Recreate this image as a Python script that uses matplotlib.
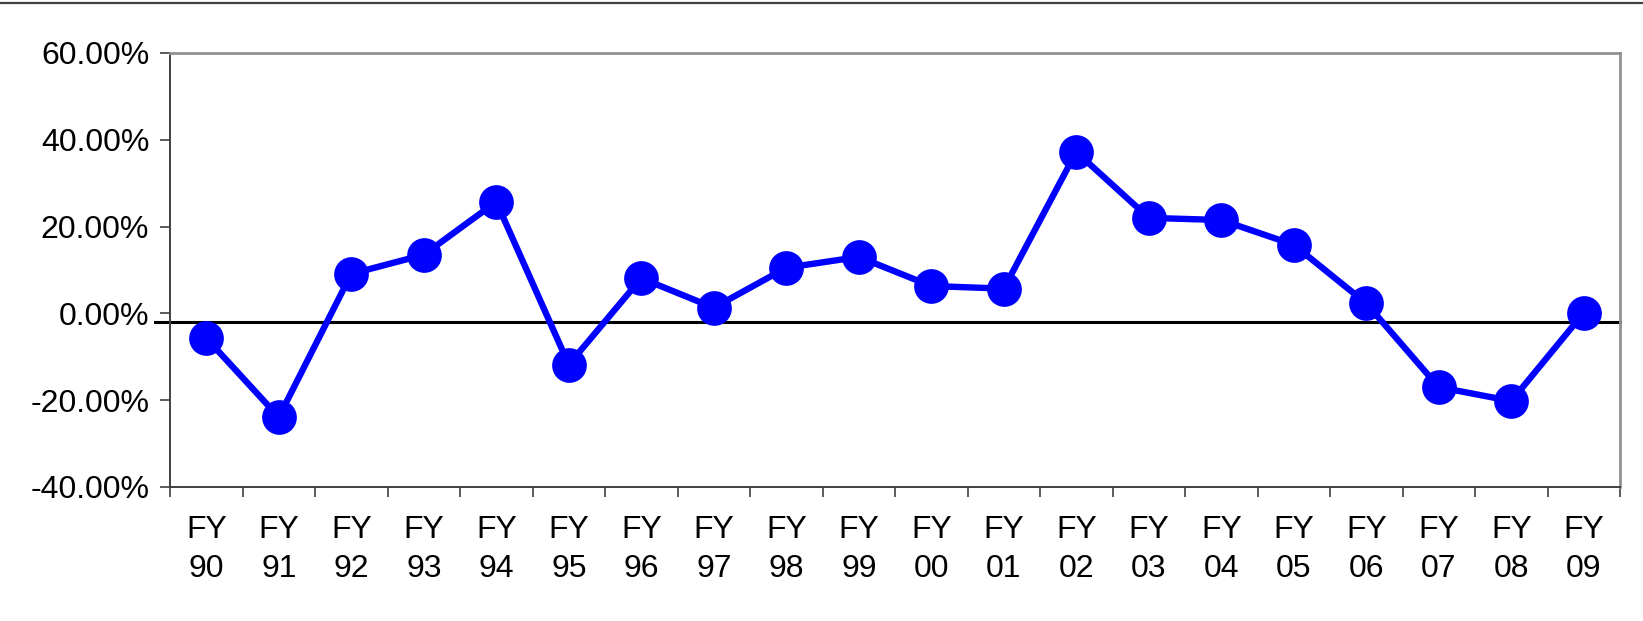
import numpy as np
import matplotlib
matplotlib.use("Agg")
import matplotlib.pyplot as plt
from matplotlib.lines import Line2D
from matplotlib.ticker import FixedLocator, FuncFormatter

years = ["90", "91", "92", "93", "94", "95", "96", "97", "98", "99",
         "00", "01", "02", "03", "04", "05", "06", "07", "08", "09"]
growth = [-5.7, -23.9, 9.1, 13.5, 25.7, -11.8, 8.1, 1.3, 10.5, 13.0,
          6.3, 5.7, 37.2, 22.0, 21.5, 15.8, 2.3, -17.0, -20.2, 0.1]
ref_level = -2.0
yticks = [-40, -20, 0, 20, 40, 60]

plt.rcParams['font.family'] = ['Liberation Sans', 'DejaVu Sans']

fig = plt.figure(figsize=(16.43, 6.21), dpi=100)
ax = fig.add_axes([0.1035, 0.2158, 0.8825, 0.699])

x = np.arange(len(years))
ax.plot(x, growth, color="#0000FF", lw=4.6, marker="o", ms=25,
        markeredgewidth=0, zorder=3)

ax.add_line(Line2D([-0.0105, 1.0], [ref_level, ref_level], color="black", lw=2.2,
                   transform=ax.get_yaxis_transform(), clip_on=False, zorder=2))

ax.set_xlim(-0.5, len(years) - 0.5)
ax.set_ylim(-40, 60)
ax.set_yticks(yticks)
ax.yaxis.set_major_formatter(FuncFormatter(lambda v, p: f"{v:.2f}%"))
ax.set_xticks(x)
ax.set_xticklabels([f"FY\n{y}" for y in years], linespacing=1.4)
ax.xaxis.set_minor_locator(FixedLocator(np.arange(-0.5, len(years), 1.0)))

ax.tick_params(axis="y", length=7, width=1.2, color="#404040", labelsize=23, pad=8)
ax.tick_params(axis="x", which="major", length=0, labelsize=23, pad=20)
ax.tick_params(axis="x", which="minor", length=7, width=1.2, color="#404040")

for side in ["left", "bottom"]:
    ax.spines[side].set_color("#404040")
    ax.spines[side].set_linewidth(1.4)
for side in ["top", "right"]:
    ax.spines[side].set_color("#909090")
    ax.spines[side].set_linewidth(2.0)

fig.add_artist(Line2D([0, 1], [0.9955, 0.9955], color="#404040", lw=1.6,
                      transform=fig.transFigure))

fig.savefig("out.png", dpi=100)
